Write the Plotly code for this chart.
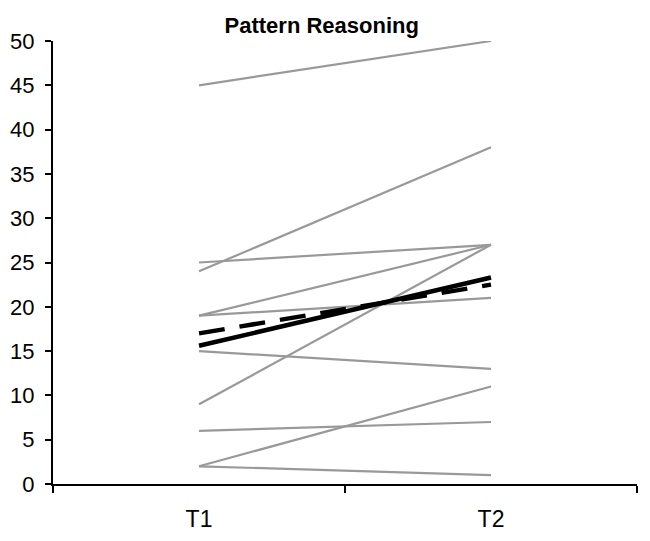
import plotly.graph_objects as go

# Time points
times = ["T1", "T2"]

# Individual participant scores (T1, T2)
participant_t1 = [45, 24, 25, 19, 19, 15, 9, 6, 2, 2]
participant_t2 = [50, 38, 27, 27, 21, 13, 27, 7, 11, 1]

# Group mean trajectories
mean_solid = [15.6, 23.3]
mean_dashed = [17.0, 22.5]

y_ticks = list(range(0, 51, 5))

FONT = "Liberation Sans, Arial, sans-serif"

fig = go.Figure()

for a, b in zip(participant_t1, participant_t2):
    fig.add_trace(go.Scatter(
        x=times, y=[a, b], mode="lines",
        line=dict(color="#999999", width=2.2),
        showlegend=False, hoverinfo="skip",
    ))

fig.add_trace(go.Scatter(
    x=times, y=mean_dashed, mode="lines",
    line=dict(color="black", width=4.5, dash="26px,15px"),
    showlegend=False,
))
fig.add_trace(go.Scatter(
    x=times, y=mean_solid, mode="lines",
    line=dict(color="black", width=4.5),
    showlegend=False,
))

fig.update_layout(
    width=650, height=541,
    margin=dict(l=53, r=13, t=41, b=57),
    paper_bgcolor="white", plot_bgcolor="white",
    title=dict(
        text="<b>Pattern Reasoning</b>",
        x=0.495, xanchor="center", xref="container",
        y=0.953, yanchor="middle", yref="container",
        font=dict(family=FONT, size=22, color="black"),
    ),
    xaxis=dict(
        type="category", range=[-0.5, 1.5], automargin=False,
        tickson="boundaries", ticks="outside", ticklen=7, tickwidth=1.5,
        tickcolor="black", showline=True, linecolor="black", linewidth=2,
        showgrid=False, zeroline=False,
        tickfont=dict(family=FONT, size=23, color="black"),
        ticklabelstandoff=13,
    ),
    yaxis=dict(
        range=[0, 50], tickvals=y_ticks, ticks="outside", ticklen=6,
        automargin=False,
        tickwidth=1.5, tickcolor="black", showline=True, linecolor="black",
        linewidth=2, showgrid=False, zeroline=False,
        tickfont=dict(family=FONT, size=22, color="black"),
        ticklabelstandoff=6,
    ),
)

fig.write_html("out.html")
